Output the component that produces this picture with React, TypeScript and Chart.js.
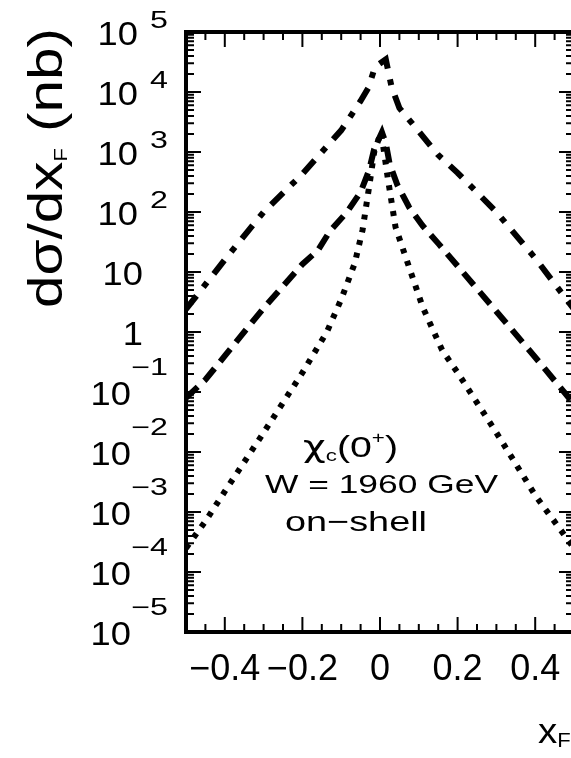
import { useEffect, useRef } from 'react';
import { Chart, registerables } from 'chart.js';

Chart.register(...registerables);

// ---- data ----
const dashDotX = [-0.5, -0.4, -0.3, -0.2, -0.1, -0.05, -0.03, -0.013, 0.015, 0.03, 0.05, 0.1, 0.15, 0.2, 0.3, 0.4, 0.5];
const dashDotY = [2.4, 16, 100, 430, 2300, 7100, 11700, 26000, 35000, 12000, 5400, 2200, 890, 450, 100, 17, 2.4];

const dashedX = [-0.5, -0.45, -0.4, -0.3, -0.2, -0.16, -0.13, -0.085, -0.05, -0.028, -0.015, 0.005, 0.015, 0.025, 0.045, 0.075, 0.11, 0.15, 0.2, 0.3, 0.4, 0.5];
const dashedY = [0.08, 0.16, 0.4, 2.5, 13.5, 23, 47, 100, 214, 500, 1120, 2140, 1400, 630, 280, 120, 59, 30, 12.6, 2.2, 0.38, 0.063];

const dottedX = [-0.5, -0.45, -0.4, -0.3, -0.2, -0.137, -0.1, -0.065, -0.045, -0.026, -0.015, 0.003, 0.02, 0.04, 0.07, 0.11, 0.16, 0.2, 0.3, 0.4, 0.5];
const dottedY = [0.00025, 0.0007, 0.0022, 0.021, 0.21, 1.0, 3.5, 14, 50, 320, 1000, 2140, 370, 56, 15, 2.6, 0.5, 0.21, 0.021, 0.0019, 0.00025];

const xMin = -0.5;
const xMax = 0.5;
const yMin = 1e-5;
const yMax = 1e5;
const xMajorTicks = [-0.4, -0.2, 0, 0.2, 0.4];
const xTickLabels = ['\u22120.4', '\u22120.2', '0', '0.2', '0.4'];
const xMinorTicks = [-0.45, -0.35, -0.3, -0.25, -0.15, -0.1, -0.05, 0.05, 0.1, 0.15, 0.25, 0.3, 0.35, 0.45];
const yDecadeExponents = [-5, -4, -3, -2, -1, 0, 1, 2, 3, 4, 5];
const yMinorMultipliers = [2, 3, 4, 5, 6, 7, 8, 9];

const FONT = '"Liberation Sans", Arial, sans-serif';
const GREEK_FONT = '"DejaVu Sans", sans-serif';

type Seg = { t: string; size: number; dy?: number; font?: string };

function drawRich(
  ctx: CanvasRenderingContext2D,
  segs: Seg[],
  x: number,
  y: number,
  align: 'left' | 'right' | 'center',
  opts: { sx?: number; width?: number } = {}
) {
  let total = 0;
  const ws = segs.map((s) => {
    ctx.font = `${s.size}px ${s.font ?? FONT}`;
    const w = ctx.measureText(s.t).width;
    total += w;
    return w;
  });
  const sx = opts.width ? opts.width / total : opts.sx ?? 1;
  const W = total * sx;
  const x0 = align === 'left' ? x : align === 'right' ? x - W : x - W / 2;
  ctx.save();
  ctx.translate(x0, y);
  ctx.scale(sx, 1);
  ctx.textAlign = 'left';
  ctx.textBaseline = 'alphabetic';
  ctx.fillStyle = '#000';
  let cx = 0;
  segs.forEach((s, i) => {
    ctx.font = `${s.size}px ${s.font ?? FONT}`;
    ctx.fillText(s.t, cx, s.dy ?? 0);
    cx += ws[i];
  });
  ctx.restore();
}

const decorPlugin = {
  id: 'decor',
  afterDraw(chart: any) {
    const ctx: CanvasRenderingContext2D = chart.ctx;
    const xs = chart.scales.x;
    const ys = chart.scales.y;
    const { left, right, top, bottom } = chart.chartArea;
    ctx.save();
    ctx.strokeStyle = '#000';
    ctx.lineCap = 'butt';

    // ticks
    ctx.lineWidth = 2;
    const majorLen = 15;
    const minorLen = 8;
    const vtick = (v: number, len: number) => {
      const px = xs.getPixelForValue(v);
      ctx.beginPath();
      ctx.moveTo(px, bottom);
      ctx.lineTo(px, bottom - len);
      ctx.moveTo(px, top);
      ctx.lineTo(px, top + len);
      ctx.stroke();
    };
    xMajorTicks.forEach((v) => vtick(v, majorLen));
    xMinorTicks.forEach((v) => vtick(v, minorLen));
    const htick = (v: number, len: number) => {
      const py = ys.getPixelForValue(v);
      ctx.beginPath();
      ctx.moveTo(left, py);
      ctx.lineTo(left + len, py);
      ctx.moveTo(right, py);
      ctx.lineTo(right - len, py);
      ctx.stroke();
    };
    yDecadeExponents.forEach((e) => {
      htick(Math.pow(10, e), majorLen);
      if (e < 5) yMinorMultipliers.forEach((m) => htick(m * Math.pow(10, e), minorLen));
    });

    // frame
    ctx.lineWidth = 4;
    ctx.strokeRect(left, top, right - left, bottom - top);
    ctx.restore();

    // y tick labels
    yDecadeExponents.forEach((e) => {
      const py = ys.getPixelForValue(Math.pow(10, e));
      if (e === 0) {
        drawRich(ctx, [{ t: '1', size: 33 }], 143, py + 13, 'right', { sx: 1.1 });
      } else if (e === 1) {
        drawRich(ctx, [{ t: '10', size: 33 }], 143, py + 13, 'right', { sx: 1.1 });
      } else if (e > 1) {
        drawRich(ctx, [{ t: '10', size: 33 }], 138, py + 13, 'right', { sx: 1.1 });
        drawRich(ctx, [{ t: String(e), size: 23 }], 168, py - 4, 'right', { sx: 1.4 });
      } else {
        drawRich(ctx, [{ t: '10', size: 33 }], 131, py + 13, 'right', { sx: 1.1 });
        drawRich(ctx, [{ t: '\u2212' + String(-e), size: 23 }], 168, py - 17, 'right', { sx: 1.4 });
      }
    });

    // x tick labels
    xMajorTicks.forEach((v, i) => {
      const px = xs.getPixelForValue(v);
      drawRich(ctx, [{ t: xTickLabels[i], size: 36 }], px, 680, 'center');
    });

    // x title
    drawRich(ctx, [{ t: 'x', size: 35 }, { t: 'F', size: 20, dy: 4 }], 538, 743, 'left', { sx: 1.1 });

    // y title (rotated)
    ctx.save();
    ctx.translate(62, 308);
    ctx.rotate(-Math.PI / 2);
    drawRich(
      ctx,
      [
        { t: 'd\u03c3/dx', size: 48 },
        { t: 'F', size: 18, dy: 5 },
        { t: ' (nb)', size: 48 },
      ],
      0,
      0,
      'left',
      { width: 280 }
    );
    ctx.restore();

    // annotation
    drawRich(
      ctx,
      [
        { t: '\u03c7', size: 30, font: GREEK_FONT },
        { t: 'c', size: 17, dy: 4 },
        { t: '(0', size: 30 },
        { t: '+', size: 17, dy: -14 },
        { t: ')', size: 30 },
      ],
      303,
      457,
      'left',
      { width: 95 }
    );
    drawRich(ctx, [{ t: 'W = 1960 GeV', size: 26 }], 265, 493, 'left', { width: 233 });
    drawRich(ctx, [{ t: 'on\u2212shell', size: 28 }], 285, 531, 'left', { width: 142 });
  },
};

function pts(xs: number[], ys: number[]) {
  return xs.map((x, i) => ({ x, y: ys[i] }));
}

export default function App() {
  const ref = useRef<HTMLCanvasElement | null>(null);
  useEffect(() => {
    if (!ref.current) return;
    const common = {
      borderColor: '#000',
      borderWidth: 6,
      pointRadius: 0,
      tension: 0,
      fill: false,
      borderCapStyle: 'butt' as const,
    };
    const chart = new Chart(ref.current, {
      type: 'line',
      data: {
        datasets: [
          { ...common, label: 'dash-dot', data: pts(dashDotX, dashDotY), borderDash: [17, 11, 6, 11] },
          { ...common, label: 'dashed', data: pts(dashedX, dashedY), borderDash: [16, 9] },
          { ...common, label: 'dotted', data: pts(dottedX, dottedY), borderDash: [5, 8] },
        ],
      },
      options: {
        animation: false,
        responsive: false,
        events: [],
        layout: { padding: { left: 186, right: 26, top: 32, bottom: 126 } },
        scales: {
          x: { type: 'linear', min: xMin, max: xMax, display: false },
          y: { type: 'logarithmic', min: yMin, max: yMax, display: false },
        },
        plugins: { legend: { display: false }, tooltip: { enabled: false } },
      },
      plugins: [decorPlugin],
    });
    return () => chart.destroy();
  }, []);
  return (
    <div
      style={{
        position: 'absolute',
        left: 0,
        top: 0,
        width: 571,
        height: 758,
        overflow: 'hidden',
        background: '#fff',
      }}
    >
      <canvas ref={ref} width={600} height={758} style={{ width: 600, height: 758, display: 'block' }} />
    </div>
  );
}
